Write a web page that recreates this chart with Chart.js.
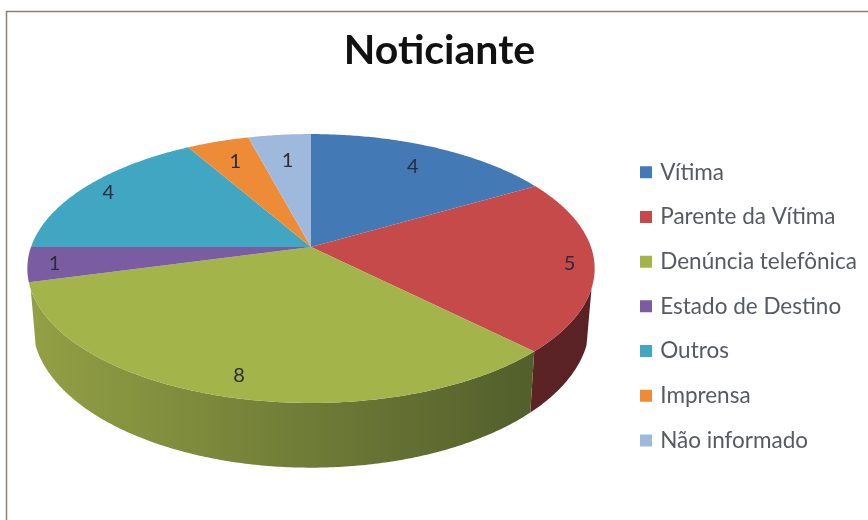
<!DOCTYPE html>
<html>
<head>
<meta charset="utf-8">
<style>
  html, body { margin: 0; padding: 0; background: #fff; }
  canvas { display: block; filter: blur(0.55px); }
</style>
<script src="https://cdn.jsdelivr.net/npm/chart.js@4"></script>
</head>
<body>
<canvas id="chart" width="868" height="520"></canvas>
<script>
const categories = ['Vítima', 'Parente da Vítima', 'Denúncia telefônica', 'Estado de Destino', 'Outros', 'Imprensa', 'Não informado'];
const values = [4, 5, 8, 1, 4, 1, 1];
const colors = ['#4379b4', '#c74a4a', '#a3b44b', '#7a5ca3', '#41a6c1', '#ee8b36', '#9fb9dc'];
const wallLeft = ['#2a4f78', '#742c2e', '#93a044', '#50396e', '#286f82', '#a85f20', '#6a7f9e'];
const wallRight = ['#2a4f78', '#592224', '#4b5729', '#50396e', '#286f82', '#a85f20', '#6a7f9e'];
const labelRadius = [0.8, 0.91, 0.87, 0.91, 0.9, 0.8, 0.75];

// perspective of the disc: apex sits above the ellipse centre
const top3d = { cx: 311, cy: 247, a: 280, b: 131 };
const bottom3d = { cx: 311, cy: 301, a: 275, b: 140 };
const tilt = 0.16;

function project(ring, angle, r) {
    const u = Math.cos(angle) * r, v = Math.sin(angle) * r;
    const w = 1 - tilt * v;
    return { x: ring.cx + ring.a * u / w, y: ring.cy + ring.b * v / w };
}

function sampleAngles(start, end) {
    const n = Math.max(2, Math.ceil((end - start) / 0.01));
    const out = [];
    for (let i = 0; i <= n; i++) out.push(start + (end - start) * i / n);
    return out;
}

const pie3d = {
    id: 'pie3d',
    afterLayout(chart) {
        const legend = chart.legend;
        const pad = legend.options.labels.padding;
        legend.left = 643 - pad;
        legend.right = 868;
        legend.top = 161 - pad;
        legend.bottom = 520;
    },
    beforeDraw(chart) {
        const ctx = chart.ctx;
        ctx.save();
        ctx.strokeStyle = '#8b807a';
        ctx.lineWidth = 1.5;
        ctx.beginPath();
        ctx.moveTo(6.5, 520);
        ctx.lineTo(6.5, 11.5);
        ctx.lineTo(868, 11.5);
        ctx.stroke();
        ctx.restore();
    },
    beforeDatasetsDraw(chart) {
        const ctx = chart.ctx;
        const arcs = chart.getDatasetMeta(0).data;
        ctx.save();

        // side wall, only the part of the rim that faces the viewer
        arcs.forEach((arc, i) => {
            const angles = sampleAngles(arc.startAngle, arc.endAngle).filter(t => Math.sin(t) >= 0.3);
            if (angles.length < 2) return;
            const grad = ctx.createLinearGradient(30, 0, 590, 0);
            grad.addColorStop(0, wallLeft[i]);
            grad.addColorStop(1, wallRight[i]);
            ctx.fillStyle = grad;
            ctx.beginPath();
            angles.forEach((t, k) => {
                const p = project(top3d, t, 1);
                if (k === 0) ctx.moveTo(p.x, p.y); else ctx.lineTo(p.x, p.y);
            });
            angles.slice().reverse().forEach(t => {
                const p = project(bottom3d, t, 1);
                ctx.lineTo(p.x, p.y);
            });
            ctx.closePath();
            ctx.fill();
        });

        // top face
        arcs.forEach((arc, i) => {
            ctx.fillStyle = colors[i];
            ctx.beginPath();
            ctx.moveTo(top3d.cx, top3d.cy);
            sampleAngles(arc.startAngle, arc.endAngle).forEach(t => {
                const p = project(top3d, t, 1);
                ctx.lineTo(p.x, p.y);
            });
            ctx.closePath();
            ctx.fill();
        });

        // value labels
        ctx.fillStyle = '#2b2b3a';
        ctx.font = '20px Lato';
        ctx.textAlign = 'center';
        ctx.textBaseline = 'middle';
        arcs.forEach((arc, i) => {
            const p = project(top3d, (arc.startAngle + arc.endAngle) / 2, labelRadius[i]);
            ctx.fillText(String(values[i]), p.x + 1, p.y + 1);
        });

        ctx.restore();
        return false;
    }
};

new Chart(document.getElementById('chart'), {
    type: 'pie',
    data: {
        labels: categories,
        // thick border gives the legend swatch its size, arcs are drawn by pie3d
        datasets: [{ data: values, backgroundColor: colors, borderColor: colors, borderWidth: 6 }]
    },
    options: {
        responsive: false,
        animation: false,
        layout: { padding: { left: 11 } },
        plugins: {
            title: {
                display: true,
                text: 'Noticiante',
                color: '#111',
                font: { family: 'Lato', size: 41, weight: 'bold' },
                padding: { top: 26, bottom: 10 }
            },
            legend: {
                position: 'right',
                align: 'start',
                labels: {
                    boxWidth: 6,
                    boxHeight: 6,
                    padding: 22.2,
                    color: '#565a62',
                    font: { family: 'Lato', size: 22.5 }
                }
            },
            tooltip: { enabled: false }
        }
    },
    plugins: [pie3d]
});
</script>
</body>
</html>
